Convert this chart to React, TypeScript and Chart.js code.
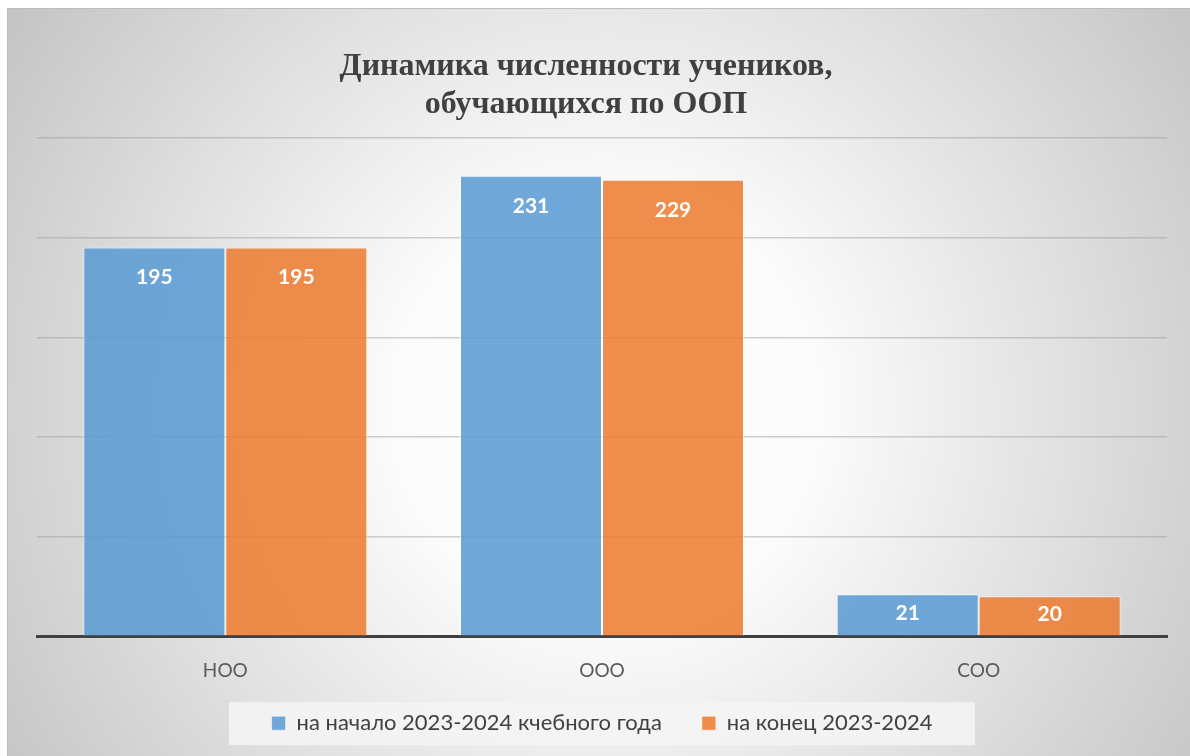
import React, { useEffect, useRef } from "react";
import { Chart, registerables } from "chart.js";

Chart.register(...registerables);

const categories = ["НОО", "ООО", "СОО"];
const seriesStart = [195, 231, 21];
const seriesEnd = [195, 229, 20];
const seriesLabels = ["на начало 2023-2024 кчебного года", "на конец 2023-2024"];
const titleLines = ["Динамика численности учеников,", "обучающихся по ООП"];
const yMax = 250;
const yStep = 50;

const W = 1183;
const H = 748;

const bgPlugin = {
  id: "bgPlugin",
  afterLayout(chart: any) {
    const t = chart.titleBlock;
    if (t) {
      t.left -= 16;
      t.right -= 16;
    }
    const lg = chart.legend;
    if (lg) {
      const newTop = chart.chartArea.bottom + 36;
      lg.top = newTop;
      lg.height = lg.bottom - newTop;
    }
  },
  beforeDraw(chart: any) {
    const ctx = chart.ctx;
    ctx.save();
    const g = ctx.createRadialGradient(600, 400, 0, 600, 400, 720);
    g.addColorStop(0, "#ffffff");
    g.addColorStop(0.3, "#fbfbfb");
    g.addColorStop(1, "#c4c4c4");
    ctx.fillStyle = g;
    ctx.fillRect(0, 0, chart.width, chart.height);
    ctx.strokeStyle = "#bdbdbd";
    ctx.lineWidth = 1;
    ctx.beginPath();
    ctx.moveTo(0.5, chart.height);
    ctx.lineTo(0.5, 0.5);
    ctx.lineTo(chart.width, 0.5);
    ctx.stroke();
    const lg = chart.legend;
    if (lg) {
      const cx = (lg.left + lg.right) / 2;
      const pad = lg.options.labels.padding;
      const cy = lg.top + pad + 11;
      ctx.fillStyle = "rgba(244,244,244,0.9)";
      ctx.fillRect(cx - 373, cy - 21, 746, 43);
    }
    ctx.restore();
  },
  afterDatasetsDraw(chart: any) {
    const ctx = chart.ctx;
    ctx.save();
    ctx.fillStyle = "#ffffff";
    ctx.font = "bold 21px Lato";
    ctx.textAlign = "center";
    ctx.textBaseline = "middle";
    chart.data.datasets.forEach((ds: any, di: number) => {
      const meta = chart.getDatasetMeta(di);
      meta.data.forEach((bar: any, i: number) => {
        const h = bar.base - bar.y;
        const off = Math.min(30, h / 2 - 2);
        ctx.fillText(String(ds.data[i]), bar.x, bar.y + off);
      });
    });
    ctx.restore();
  },
};

export default function App() {
  const ref = useRef<HTMLCanvasElement | null>(null);
  useEffect(() => {
    if (!ref.current) return;
    const chart = new Chart(ref.current, {
      type: "bar",
      data: {
        labels: categories,
        datasets: [
          {
            label: seriesLabels[0],
            data: seriesStart,
            backgroundColor: "rgba(91,155,213,0.87)",
            borderColor: "rgba(255,255,255,0.55)",
            borderWidth: 1,
            categoryPercentage: 0.754,
            barPercentage: 1.0,
          },
          {
            label: seriesLabels[1],
            data: seriesEnd,
            backgroundColor: "rgba(237,125,49,0.87)",
            borderColor: "rgba(255,255,255,0.55)",
            borderWidth: 1,
            categoryPercentage: 0.754,
            barPercentage: 1.0,
          },
        ],
      },
      options: {
        responsive: false,
        animation: false,
        devicePixelRatio: 1,
        layout: { padding: { left: 30, right: 23, top: 0, bottom: 0 } },
        plugins: {
          title: {
            display: true,
            text: titleLines,
            color: "#404040",
            font: { family: "'Liberation Serif', 'Times New Roman', serif", size: 32, weight: "bold", lineHeight: "38px" },
            padding: { top: 40, bottom: 14 },
          },
          legend: {
            display: true,
            position: "bottom",
            maxHeight: 63,
            labels: {
              boxWidth: 14,
              boxHeight: 14,
              padding: 40,
              color: "#404040",
              font: { family: "Lato", size: 22 },
            },
          },
          tooltip: { enabled: false },
        },
        scales: {
          x: {
            grid: { display: false, drawTicks: true, tickLength: 12 },
            border: { display: true, color: "#404040", width: 3 },
            ticks: { color: "#595959", font: { family: "Lato", size: 19 }, padding: 11 },
          },
          y: {
            min: 0,
            max: yMax,
            ticks: { display: false, stepSize: yStep },
            border: { display: false },
            grid: {
              drawTicks: false,
              color: (c: any) => (c.tick && c.tick.value === 0 ? "rgba(0,0,0,0)" : "rgba(150,150,150,0.45)"),
              lineWidth: 1.5,
            },
            afterFit(scale: any) {
              scale.width = 0;
            },
          },
        },
      },
      plugins: [bgPlugin],
    });
    return () => chart.destroy();
  }, []);
  return (
    <div style={{ position: "fixed", left: 7, top: 8, width: W, height: H }}>
      <canvas ref={ref} width={W} height={H} style={{ width: W, height: H, display: "block" }} />
    </div>
  );
}
